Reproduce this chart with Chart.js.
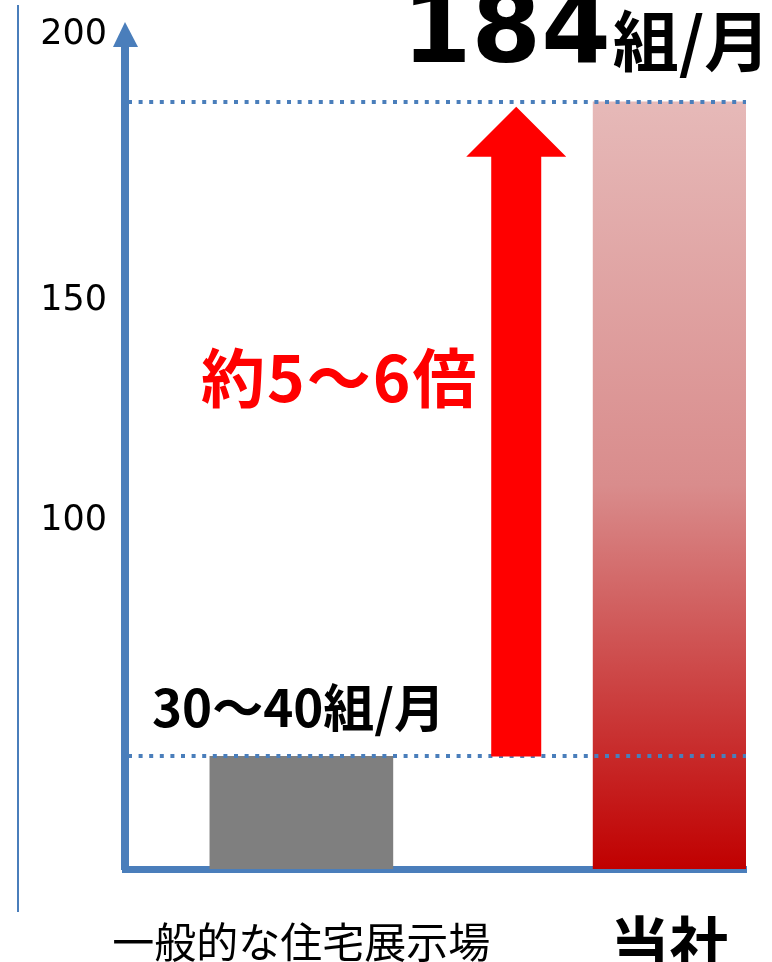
<!DOCTYPE html>
<html>
<head>
<meta charset="utf-8">
<script src="https://cdn.jsdelivr.net/npm/chart.js@4"></script>
<style>
  html, body { margin: 0; padding: 0; background: #fff; }
  #box { width: 772px; height: 962px; }
</style>
</head>
<body>
<div id="box"><canvas id="kaijou"></canvas></div>
<script>
// data
const categories = ['一般的な住宅展示場', '当社'];
const visitors = [27, 184];           // 組/月
const yTickLabels = ['100', '150', '200'];
// where each y label sits on the drawn scale (the picture does not put them at their own values)
const yTickAt = [83.5, 136.3, 200];

// layout
const catX = [28.4, 87.7];            // x positions of the two categories (0..100 across the plot)
const arrowX = 63.0;
const blue = '#4a7ebb';
const jp = '"Noto Sans CJK JP", "Noto Sans", sans-serif';

const ctx = document.getElementById('kaijou');

const decorations = {
  id: 'decorations',
  afterDatasetsDraw(chart) {
    const c = chart.ctx;
    const x = chart.scales.x;
    const y = chart.scales.y;
    c.save();
    // dotted level lines
    c.strokeStyle = blue;
    c.lineWidth = 4;
    c.setLineDash([4, 6.6]);
    visitors.forEach(v => {
      const py = Math.round(y.getPixelForValue(v));
      c.beginPath();
      c.moveTo(x.left + 3, py);
      c.lineTo(x.right, py);
      c.stroke();
    });
    c.restore();
  },
  afterDraw(chart) {
    const c = chart.ctx;
    const x = chart.scales.x;
    const y = chart.scales.y;
    c.save();

    // thin line at the far left
    c.strokeStyle = blue;
    c.lineWidth = 2;
    c.beginPath();
    c.moveTo(18, 5);
    c.lineTo(18, 912);
    c.stroke();

    // arrow head on the y axis
    c.fillStyle = blue;
    c.beginPath();
    c.moveTo(x.left, 22);
    c.lineTo(x.left + 13, 47);
    c.lineTo(x.left - 12, 47);
    c.closePath();
    c.fill();

    // red arrow from low to high
    const ax = x.getPixelForValue(arrowX);
    const bot = y.getPixelForValue(visitors[0]);
    const tip = y.getPixelForValue(visitors[1]) + 5;
    const headBase = tip + 50;
    c.fillStyle = '#ff0000';
    c.beginPath();
    c.moveTo(ax, tip);
    c.lineTo(ax + 50, headBase);
    c.lineTo(ax + 25, headBase);
    c.lineTo(ax + 25, bot);
    c.lineTo(ax - 25, bot);
    c.lineTo(ax - 25, headBase);
    c.lineTo(ax - 50, headBase);
    c.closePath();
    c.fill();

    // texts
    c.textBaseline = 'alphabetic';
    c.textAlign = 'left';
    c.fillStyle = '#000';
    c.font = 'bold 100px "DejaVu Sans", sans-serif';
    c.fillText('184', 402, 62);
    const w = c.measureText('184').width;
    c.font = 'bold 66px ' + jp;
    c.fillText('組/月', 402 + w + 2, 66);

    c.textBaseline = 'middle';
    c.fillStyle = '#ff0000';
    c.font = 'bold 64px ' + jp;
    c.letterSpacing = '2px';
    c.fillText('約5～6倍', 201, 378);
    c.letterSpacing = '0px';

    c.fillStyle = '#000';
    c.font = 'bold 51px ' + jp;
    c.fillText('30～40組/月', 152, 708);

    c.restore();
  }
};

new Chart(ctx, {
  type: 'bar',
  data: {
    datasets: [
      {
        label: categories[0],
        data: [{ x: catX[0], y: visitors[0] }],
        backgroundColor: '#7f7f7f',
        barThickness: 183,
        borderWidth: 0
      },
      {
        label: categories[1],
        data: [{ x: catX[1], y: visitors[1] }],
        backgroundColor: (context) => {
          const area = context.chart.chartArea;
          if (!area) return '#c00000';
          const yy = context.chart.scales.y;
          const g = context.chart.ctx.createLinearGradient(0, yy.getPixelForValue(visitors[1]), 0, area.bottom);
          g.addColorStop(0, 'rgb(230,185,184)');
          g.addColorStop(0.5, 'rgb(217,140,140)');
          g.addColorStop(1, 'rgb(192,0,0)');
          return g;
        },
        barThickness: 153,
        borderWidth: 0
      }
    ]
  },
  options: {
    responsive: true,
    maintainAspectRatio: false,
    animation: false,
    layout: { padding: { top: 35, right: 26, left: 0, bottom: 0 } },
    datasets: { bar: { grouped: false } },
    plugins: {
      legend: { display: false },
      tooltip: { enabled: false }
    },
    scales: {
      x: {
        type: 'linear',
        min: 0,
        max: 100,
        offset: false,
        afterFit: (scale) => {
          scale.height = 93;
          scale.paddingLeft = 0;
          scale.paddingRight = 0;
        },
        afterBuildTicks: (scale) => { scale.ticks = catX.map(v => ({ value: v })); },
        grid: { display: false, drawTicks: false, offset: false },
        border: { display: true, color: blue, width: 7 },
        ticks: {
          autoSkip: false,
          maxRotation: 0,
          padding: 48,
          color: '#000',
          font: (c) => c.index === 1
            ? { family: jp, size: 60, weight: 'bold', lineHeight: 0.9 }
            : { family: jp, size: 42, weight: 'normal' },
          callback: (v, i) => categories[i]
        }
      },
      y: {
        min: 0,
        max: 200,
        afterFit: (scale) => {
          scale.width = 125;
          scale.paddingTop = 0;
          scale.paddingBottom = 0;
        },
        afterBuildTicks: (scale) => { scale.ticks = yTickAt.map(v => ({ value: v })); },
        grid: { display: false, drawTicks: false },
        border: { display: true, color: blue, width: 8 },
        ticks: {
          padding: 18,
          color: '#000',
          font: { family: '"DejaVu Sans", sans-serif', size: 35 },
          callback: (v, i) => yTickLabels[i]
        }
      }
    }
  },
  plugins: [decorations]
});
</script>
</body>
</html>
